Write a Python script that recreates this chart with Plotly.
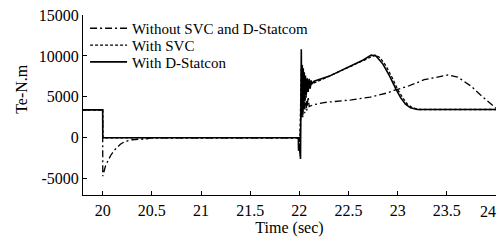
import plotly.graph_objects as go

# ---- data ----
x_ticks = [20, 20.5, 21, 21.5, 22, 22.5, 23, 23.5, 24]
x_ticklabels = ["20", "20.5", "21", "21.5", "22", "22.5", "23", "23.5", "24"]
y_ticks = [-5000, 0, 5000, 10000, 15000]
y_ticklabels = ["-5000", "0", "5000", "10000", "15000"]

series_names = ["Without SVC and D-Statcom", "With SVC", "With D-Statcon"]

t_without = [19.8, 20.0, 20.001, 20.03, 20.08, 20.12, 20.18, 20.22, 20.3, 20.45, 20.5,
             22.0, 22.005, 22.015, 22.025, 22.035, 22.045, 22.055, 22.065, 22.075, 22.09,
             22.1, 22.14, 22.25, 22.53, 22.72, 22.89, 22.96, 23.1, 23.27, 23.45, 23.51,
             23.61, 23.75, 23.84, 23.94, 24.0]
te_without = [3400, 3400, -4700, -3400, -2200, -1500, -800, -500, -250, -150, 0,
              0, -1500, 2000, 7500, 2500, 6500, 3000, 5800, 3300, 5000,
              3800, 4020, 4300, 4630, 4960, 5460, 5780, 6270, 7090, 7580, 7670,
              7420, 6270, 5250, 4230, 3610]

t_svc = [19.8, 20.0, 20.001, 22.0, 22.004, 22.012, 22.02, 22.03, 22.04, 22.05, 22.06,
         22.07, 22.08, 22.09, 22.1, 22.12, 22.15, 22.3, 22.5, 22.65, 22.77, 22.82,
         22.88, 22.95, 23.0, 23.05, 23.1, 23.15, 23.22, 24.0]
te_svc = [3400, 3400, 0, 0, -1200, 3000, 8500, 4000, 8000, 4500, 7500,
          5000, 7300, 5800, 7000, 6500, 6700, 7500, 8600, 9450, 10100, 9800,
          8800, 7200, 5900, 4900, 4100, 3650, 3450, 3450]

t_statcom = [19.8, 20.0, 20.001, 21.99, 21.992, 22.0, 22.012, 22.02, 22.025, 22.03,
             22.035, 22.04, 22.045, 22.05, 22.056, 22.062, 22.07, 22.08, 22.09,
             22.1, 22.11, 22.12, 22.13, 22.15, 22.3, 22.5, 22.65, 22.73, 22.78,
             22.85, 22.92, 22.98, 23.03, 23.08, 23.13, 23.2, 24.0]
te_statcom = [3400, 3400, 0, 0, -1600, -1000, -2600, 10800, 2500, 8900,
              2800, 8500, 3500, 8000, 4500, 7600, 5200, 7200, 5600,
              7200, 6000, 7000, 6600, 6900, 7500, 8600, 9500, 10100, 10000,
              9000, 7500, 6000, 4900, 4100, 3650, 3450, 3450]

FONT = "Liberation Serif, Times New Roman, serif"

# legend row centres (pixels from top) for each series
PLOT_TOP, PLOT_H = 15, 180
legend_rows_px = [28.5, 45.3, 62.1]

fig = go.Figure()
fig.add_trace(go.Scatter(x=t_without, y=te_without, mode="lines", name=series_names[0],
                         legend="legend",
                         line=dict(color="black", width=1.3, dash="7px,3px,2px,3px")))
fig.add_trace(go.Scatter(x=t_svc, y=te_svc, mode="lines", name=series_names[1],
                         legend="legend2",
                         line=dict(color="black", width=1.3, dash="3px,2px")))
fig.add_trace(go.Scatter(x=t_statcom, y=te_statcom, mode="lines", name=series_names[2],
                         legend="legend3",
                         line=dict(color="black", width=1.6)))


def leg(py):
    return dict(x=0.005, y=1 - (py - PLOT_TOP) / PLOT_H, xanchor="left", yanchor="middle",
                bgcolor="rgba(0,0,0,0)", font=dict(size=15, family=FONT, color="black"),
                borderwidth=0, itemwidth=37)


# the last x tick label sits flush with the axis end (drawn as an annotation so it stays inside)
shown_ticktext = x_ticklabels[:-1] + [""]

fig.update_layout(
    width=501, height=241,
    margin=dict(l=83, r=5, t=15, b=46, autoexpand=False),
    paper_bgcolor="white", plot_bgcolor="white",
    font=dict(family=FONT, size=16, color="black"),
    showlegend=True,
    legend=leg(legend_rows_px[0]),
    legend2=leg(legend_rows_px[1]),
    legend3=leg(legend_rows_px[2]),
    annotations=[
        dict(text="Te-N.m", xref="paper", yref="paper", x=-0.148, y=0.589,
             textangle=-90, showarrow=False, font=dict(size=16, family=FONT),
             xanchor="center", yanchor="middle"),
        dict(text=x_ticklabels[-1], xref="x", yref="paper", x=x_ticks[-1], y=0,
             xanchor="right", yanchor="middle", xshift=2, yshift=-16, showarrow=False,
             font=dict(size=16, family=FONT)),
    ],
)
fig.update_xaxes(range=[19.8, 24.0], tickvals=x_ticks, ticktext=shown_ticktext,
                 ticks="inside", ticklen=4, tickcolor="black", showline=True,
                 linecolor="black", linewidth=1, showgrid=False, zeroline=False,
                 ticklabelstandoff=1, automargin=False,
                 title=dict(text="Time (sec)", font=dict(size=16, family=FONT), standoff=2),
                 mirror=False)
fig.update_yaxes(range=[-7000, 15000], tickvals=y_ticks, ticktext=y_ticklabels,
                 ticks="inside", ticklen=4, tickcolor="black", showline=True,
                 linecolor="black", linewidth=1, showgrid=False, zeroline=False,
                 automargin=False, mirror=False)

fig.write_html("out.html", config={"displayModeBar": False},
               post_script="document.body.style.margin='0';")
